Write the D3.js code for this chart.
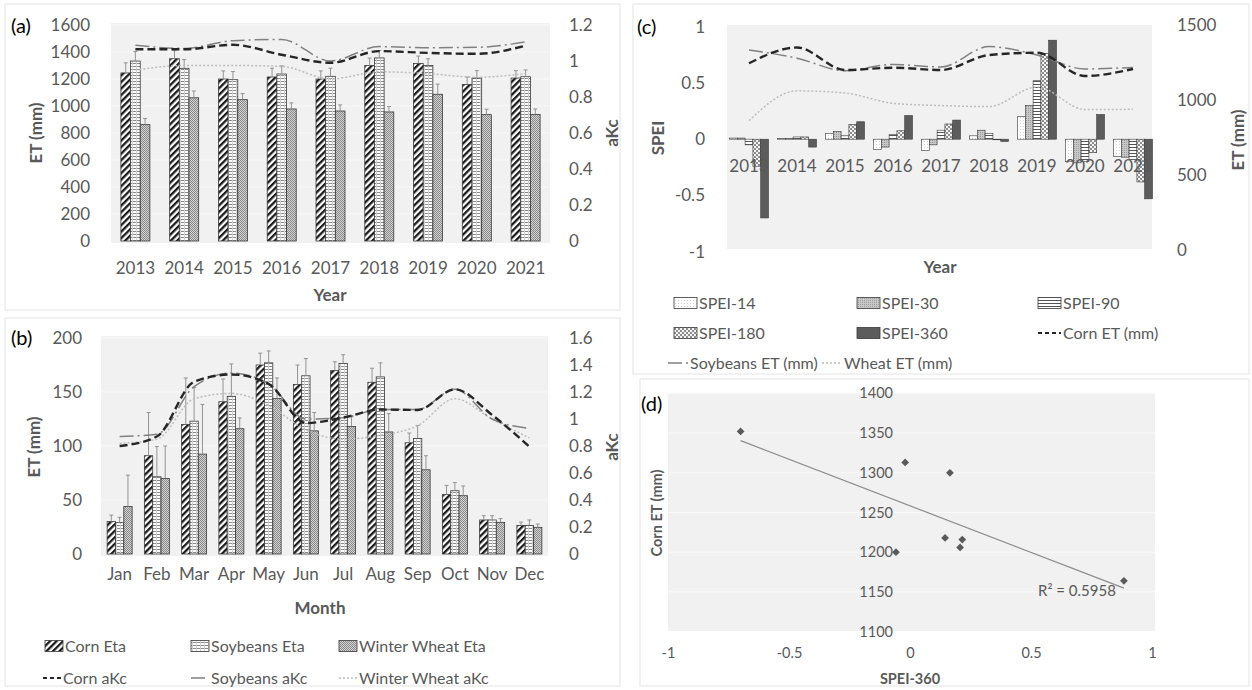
<!DOCTYPE html>
<html>
<head>
<meta charset="utf-8">
<script src="https://cdn.jsdelivr.net/npm/d3@7"></script>
<style>
  body { margin: 0; background: #fff; }
  svg { font-family: Lato, "Open Sans", sans-serif; }
</style>
</head>
<body>
<svg id="fig" width="1252" height="690"></svg>
<script>
// ---- data: panel (a), yearly ----
const years = ['2013', '2014', '2015', '2016', '2017', '2018', '2019', '2020', '2021'];
const cornEta = [1245, 1350, 1200, 1215, 1200, 1300, 1315, 1160, 1207];
const soyEta = [1333, 1279, 1195, 1237, 1220, 1356, 1300, 1207, 1217];
const wheatEta = [862, 1061, 1047, 978, 963, 956, 1087, 936, 938];
const cornEtaErr = [75, 60, 60, 65, 60, 55, 55, 55, 55];
const soyEtaErr = [70, 65, 60, 60, 60, 55, 50, 55, 50];
const wheatEtaErr = [45, 50, 45, 45, 45, 40, 75, 40, 40];
const cornAkcYear = [1.065, 1.065, 1.09, 1.035, 0.99, 1.055, 1.045, 1.04, 1.085];
const soyAkcYear = [1.087, 1.07, 1.113, 1.12, 1.0, 1.08, 1.074, 1.076, 1.107];
const wheatAkcYear = [0.95, 0.975, 0.975, 0.97, 0.9, 0.94, 0.93, 0.91, 0.93];
const aLeftTicks = [0, 200, 400, 600, 800, 1000, 1200, 1400, 1600];
const aRightTicks = ['0', '0.2', '0.4', '0.6', '0.8', '1', '1.2'];

// ---- data: panel (b), monthly ----
const months = ['Jan', 'Feb', 'Mar', 'Apr', 'May', 'Jun', 'Jul', 'Aug', 'Sep', 'Oct', 'Nov', 'Dec'];
const cornEtaMon = [30, 91, 120, 141, 175, 157, 170, 159, 103, 55, 31.5, 26.5];
const soyEtaMon = [29, 71.5, 123, 146, 177, 165, 176.5, 164, 107, 58.6, 31.5, 26.5];
const wheatEtaMon = [44, 70, 92.5, 116, 144, 114, 118, 113, 78, 54, 29.3, 24.7];
const cornErrMon = [6, 40, 43, 21, 11, 18, 8, 13, 9, 8.5, 4, 3];
const soyErrMon = [5, 28, 31, 30, 11, 16, 8, 13, 12, 7.5, 4, 5];
const wheatErrMon = [29, 30, 46, 10, 19, 17, 9, 17, 13, 9, 3.5, 3];
const cornAkcMon = [0.80, 0.87, 1.276, 1.33, 1.26, 0.97, 1.01, 1.07, 1.067, 1.22, 1.03, 0.795];
const soyAkcMon = [0.87, 0.887, 1.24, 1.34, 1.26, 1.0, 1.01, 1.07, 1.07, 1.22, 1.0, 0.93];
const wheatAkcMon = [0.82, 0.85, 1.15, 1.19, 1.1, 0.92, 0.85, 0.88, 0.95, 1.15, 1.0, 0.86];
const bLeftTicks = [0, 50, 100, 150, 200];
const bRightTicks = ['0', '0.2', '0.4', '0.6', '0.8', '1', '1.2', '1.4', '1.6'];

// ---- data: panel (c), SPEI ----
const spei14 = [0.01, 0.005, 0.05, -0.09, -0.10, 0.03, 0.20, -0.20, -0.155];
const spei30 = [0.01, 0.005, 0.07, -0.07, -0.05, 0.08, 0.30, -0.21, -0.16];
const spei90 = [-0.05, 0.02, 0.03, 0.04, 0.08, 0.05, 0.52, -0.20, -0.18];
const spei180 = [-0.24, 0.02, 0.13, 0.075, 0.135, -0.005, 0.76, -0.12, -0.38];
const spei360 = [-0.70, -0.07, 0.155, 0.21, 0.17, -0.02, 0.88, 0.22, -0.53];
const cLeftTicks = ['-1', '-0.5', '0', '0.5', '1'];
const cRightTicks = [0, 500, 1000, 1500];

// ---- data: panel (d), scatter ----
const dSpei = [-0.70, -0.02, 0.165, 0.145, 0.216, 0.207, -0.058, 0.884];
const dCornET = [1352, 1313, 1300, 1218, 1216, 1206, 1200, 1164];
const dXTicks = ['-1', '-0.5', '0', '0.5', '1'];
const dYTicks = [1100, 1150, 1200, 1250, 1300, 1350, 1400];

const grey = '#595959';
const plotBg = '#f1f1f1';
const plain = d3.format('d');
const svg = d3.select('#fig');
const defs = svg.append('defs');

function makePattern(id, w, h, bg, rot) {
  const p = defs.append('pattern').attr('id', id)
    .attr('patternUnits', 'userSpaceOnUse').attr('width', w).attr('height', h);
  if (rot) p.attr('patternTransform', `rotate(${rot})`);
  p.append('rect').attr('width', w).attr('height', h).attr('fill', bg);
  return p;
}
function dot(p, x, y, w, h, c) {
  p.append('rect').attr('x', x).attr('y', y).attr('width', w).attr('height', h).attr('fill', c);
}
dot(makePattern('pCorn', 4.6, 4.6, '#fff', 45), 0, 0, 2.3, 4.6, '#1a1a1a');
const pSoy = makePattern('pSoy', 4, 3, '#fff');
dot(pSoy, 0, 0, 4, 1, '#8a8a8a');
dot(pSoy, 0, 0, 1, 3, '#d0d0d0');
const pWheat = makePattern('pWheat', 2, 2, '#d2d2d2');
dot(pWheat, 0, 0, 1, 1, '#8a8a8a');
dot(pWheat, 1, 1, 1, 1, '#8a8a8a');
dot(makePattern('p14', 3, 3, '#fff'), 0, 0, 1, 1, '#d0d0d0');
const p30 = makePattern('p30', 2, 2, '#c8c8c8');
dot(p30, 0, 0, 1, 1, '#9a9a9a');
dot(makePattern('p90', 3, 3, '#fff'), 0, 0, 3, 1, '#555');
const p180 = makePattern('p180', 4, 4, '#8e8e8e');
dot(p180, 0, 0, 2, 2, '#f2f2f2');
dot(p180, 2, 2, 2, 2, '#f2f2f2');
makePattern('p360', 4, 4, '#5c5c5c');

const lineStyles = {
  corn: { stroke: '#262626', width: 2.4, dash: '8,4' },
  soy: { stroke: '#808080', width: 1.5, dash: '14,4,2,4' },
  wheat: { stroke: '#bdbdbd', width: 1.5, dash: '2,2' }
};

function styleAxis(a, size) {
  a.select('.domain').remove();
  a.attr('font-family', null).attr('font-size', size);
  a.selectAll('text').attr('fill', grey);
}
function label(txt, x, y, opts = {}) {
  const t = svg.append('text').attr('x', x).attr('y', y).text(txt)
    .attr('font-size', opts.size || 17).attr('fill', opts.fill || grey)
    .attr('text-anchor', opts.anchor || 'middle');
  if (opts.bold) t.attr('font-weight', 'bold');
  if (opts.rot) t.attr('transform', `rotate(${opts.rot},${x},${y})`);
  return t;
}
function drawLine(g, vals, x, y, st) {
  g.append('path').datum(vals)
    .attr('d', d3.line().x((d, i) => x(i)).y(d => y(d)).curve(d3.curveMonotoneX))
    .attr('fill', 'none').attr('stroke', st.stroke).attr('stroke-width', st.width)
    .attr('stroke-dasharray', st.dash);
}

// panel frames
[[5, 4, 620, 310], [5, 318, 620, 686], [633, 4, 1249, 374], [640, 379, 1249, 686]].forEach(b => {
  svg.append('rect').attr('x', b[0]).attr('y', b[1]).attr('width', b[2] - b[0]).attr('height', b[3] - b[1])
    .attr('fill', 'none').attr('stroke', '#e4e4e4');
});

// ---- grouped bars with two axes: panels (a) and (b) ----
function barPanel(cfg) {
  const g = svg.append('g');
  const x = d3.scaleBand().domain(cfg.cats).range([cfg.x0, cfg.x1]);
  const inner = d3.scaleBand().domain(d3.range(cfg.bars.length)).range([0, cfg.groupW]);
  const yL = d3.scaleLinear().domain(cfg.leftDomain).range([cfg.yBot, cfg.yTop]);
  const yR = d3.scaleLinear().domain(cfg.rightDomain).range([cfg.yBot, cfg.yTop]);
  const gx = i => x(cfg.cats[i]) + (x.bandwidth() - cfg.groupW) / 2;

  g.append('rect').attr('x', cfg.x0).attr('y', cfg.yTop - 2)
    .attr('width', cfg.x1 - cfg.x0).attr('height', cfg.yBot - cfg.yTop + 4).attr('fill', plotBg);
  g.append('g').selectAll('line').data(cfg.leftTicks.slice(1)).join('line')
    .attr('x1', cfg.x0).attr('x2', cfg.x1).attr('y1', d => yL(d)).attr('y2', d => yL(d))
    .attr('stroke', '#f8f8f8');

  cfg.bars.forEach((s, si) => {
    const bg = g.append('g');
    bg.selectAll('rect').data(s.vals).join('rect')
      .attr('x', (d, i) => gx(i) + inner(si))
      .attr('y', d => yL(d))
      .attr('width', inner.bandwidth())
      .attr('height', d => yL(0) - yL(d))
      .attr('fill', `url(#${s.pat})`).attr('stroke', '#3a3a3a').attr('stroke-width', 0.8);
    const cx = i => gx(i) + inner(si) + inner.bandwidth() / 2;
    bg.selectAll('path.err').data(s.vals).join('path').attr('class', 'err')
      .attr('d', (d, i) => `M${cx(i)},${yL(d)}V${yL(d + s.err[i])}M${cx(i) - 2},${yL(d + s.err[i])}h4`)
      .attr('stroke', '#8a8a8a').attr('stroke-width', 0.9).attr('fill', 'none');
  });

  const lx = i => x(cfg.cats[i]) + x.bandwidth() / 2;
  cfg.lines.slice().reverse().forEach(l => drawLine(g, l.vals, lx, yR, l.style));

  g.append('g').attr('transform', `translate(${cfg.leftLabelX},0)`)
    .call(d3.axisLeft(yL).tickValues(cfg.leftTicks).tickSize(0).tickPadding(0).tickFormat(plain))
    .call(a => styleAxis(a, 17));
  g.append('g').attr('transform', `translate(${cfg.rightLabelX},0)`)
    .call(d3.axisRight(yR).tickValues(cfg.rightTicks.map(Number)).tickSize(0).tickPadding(0)
      .tickFormat((d, i) => cfg.rightTicks[i]))
    .call(a => styleAxis(a, 17));
  g.append('g').attr('transform', `translate(0,${cfg.yBot})`)
    .call(d3.axisBottom(x).tickSize(0).tickPadding(cfg.xPad))
    .call(a => styleAxis(a, 17));
  return { x, yL, yR };
}

barPanel({
  cats: years, x0: 111, x1: 550, groupW: 29, yTop: 25, yBot: 241,
  leftDomain: [0, 1600], rightDomain: [0, 1.2], leftTicks: aLeftTicks, rightTicks: aRightTicks,
  leftLabelX: 90, rightLabelX: 569, xPad: 21,
  bars: [
    { vals: cornEta, err: cornEtaErr, pat: 'pCorn' },
    { vals: soyEta, err: soyEtaErr, pat: 'pSoy' },
    { vals: wheatEta, err: wheatEtaErr, pat: 'pWheat' }
  ],
  lines: [
    { vals: cornAkcYear, style: lineStyles.corn },
    { vals: soyAkcYear, style: lineStyles.soy },
    { vals: wheatAkcYear, style: lineStyles.wheat }
  ]
});
label('(a)', 11, 33, { fill: '#000', anchor: 'start', size: 20 });
label('ET (mm)', 42, 133, { bold: true, rot: -90 });
label('aKc', 618, 133, { bold: true, rot: -90 });
label('Year', 330, 301, { bold: true });

barPanel({
  cats: months, x0: 101, x1: 548, groupW: 25, yTop: 338, yBot: 554,
  leftDomain: [0, 200], rightDomain: [0, 1.6], leftTicks: bLeftTicks, rightTicks: bRightTicks,
  leftLabelX: 82, rightLabelX: 569, xPad: 14,
  bars: [
    { vals: cornEtaMon, err: cornErrMon, pat: 'pCorn' },
    { vals: soyEtaMon, err: soyErrMon, pat: 'pSoy' },
    { vals: wheatEtaMon, err: wheatErrMon, pat: 'pWheat' }
  ],
  lines: [
    { vals: cornAkcMon, style: lineStyles.corn },
    { vals: soyAkcMon, style: lineStyles.soy },
    { vals: wheatAkcMon, style: lineStyles.wheat }
  ]
});
label('(b)', 11, 345, { fill: '#000', anchor: 'start', size: 20 });
label('ET (mm)', 40, 447, { bold: true, rot: -90 });
label('aKc', 618, 447, { bold: true, rot: -90 });
label('Month', 320, 614, { bold: true });

// legend for (a)/(b)
const legAB = [
  { name: 'Corn Eta', pat: 'pCorn', x: 45, y: 646 },
  { name: 'Soybeans Eta', pat: 'pSoy', x: 191, y: 646 },
  { name: 'Winter Wheat Eta', pat: 'pWheat', x: 339, y: 646 },
  { name: 'Corn aKc', line: lineStyles.corn, x: 43, y: 678 },
  { name: 'Soybeans aKc', line: lineStyles.soy, x: 191, y: 678 },
  { name: 'Winter Wheat aKc', line: lineStyles.wheat, x: 339, y: 678 }
];
function legendItems(items, sw, size) {
  items.forEach(it => {
    if (it.pat) {
      svg.append('rect').attr('x', it.x).attr('y', it.y - 5.5).attr('width', sw).attr('height', 11)
        .attr('fill', `url(#${it.pat})`).attr('stroke', '#3a3a3a').attr('stroke-width', 0.8);
    } else {
      svg.append('line').attr('x1', it.x).attr('x2', it.x + sw).attr('y1', it.y).attr('y2', it.y)
        .attr('stroke', it.line.stroke).attr('stroke-width', Math.min(it.line.width, 1.8))
        .attr('stroke-dasharray', it.line.dash === '8,4' ? '4,3' : it.line.dash);
    }
    label(it.name, it.x + sw + 2, it.y + 6, { anchor: 'start', size: size });
  });
}
legendItems(legAB, 18, 16);

// ---- panel (c): SPEI bars + ET lines ----
{
  const g = svg.append('g');
  const x = d3.scaleBand().domain(years).range([725, 1157]);
  const speiSeries = [
    { vals: spei14, pat: 'p14' }, { vals: spei30, pat: 'p30' }, { vals: spei90, pat: 'p90' },
    { vals: spei180, pat: 'p180' }, { vals: spei360, pat: 'p360' }
  ];
  const groupW = 39;
  const inner = d3.scaleBand().domain(d3.range(speiSeries.length)).range([0, groupW]);
  const yL = d3.scaleLinear().domain([-1, 1]).range([251.7, 26.7]);
  const yR = d3.scaleLinear().domain([0, 1500]).range([250, 25]);
  g.append('rect').attr('x', 727).attr('y', 25).attr('width', 425).attr('height', 224).attr('fill', plotBg);
  speiSeries.forEach((s, si) => {
    g.append('g').selectAll('rect').data(s.vals).join('rect')
      .attr('x', (d, i) => x(years[i]) + (x.bandwidth() - groupW) / 2 + inner(si))
      .attr('y', d => Math.min(yL(d), yL(0)))
      .attr('width', inner.bandwidth())
      .attr('height', d => Math.abs(yL(d) - yL(0)))
      .attr('fill', `url(#${s.pat})`).attr('stroke', '#3a3a3a').attr('stroke-width', 0.6);
  });
  const lx = i => x(years[i]) + x.bandwidth() / 2;
  drawLine(g, wheatEta, lx, yR, lineStyles.wheat);
  drawLine(g, soyEta, lx, yR, lineStyles.soy);
  drawLine(g, cornEta, lx, yR, lineStyles.corn);

  g.append('g').attr('transform', 'translate(705,0)')
    .call(d3.axisLeft(yL).tickValues(cLeftTicks.map(Number)).tickSize(0).tickPadding(0)
      .tickFormat((d, i) => cLeftTicks[i]))
    .call(a => styleAxis(a, 17));
  g.append('g').attr('transform', 'translate(1177,0)')
    .call(d3.axisRight(yR).tickValues(cRightTicks).tickSize(0).tickPadding(0).tickFormat(plain))
    .call(a => styleAxis(a, 17));
  g.append('g').attr('transform', `translate(0,${yL(0)})`)
    .call(d3.axisBottom(x).tickSize(0).tickPadding(21))
    .call(a => styleAxis(a, 17));
  label('(c)', 637, 34, { fill: '#000', anchor: 'start', size: 20 });
  label('SPEI', 664, 138, { bold: true, rot: -90 });
  label('ET (mm)', 1244, 140, { bold: true, rot: -90 });
  label('Year', 940, 273, { bold: true });

  legendItems([
    { name: 'SPEI-14', pat: 'p14', x: 674, y: 303 },
    { name: 'SPEI-30', pat: 'p30', x: 857, y: 303 },
    { name: 'SPEI-90', pat: 'p90', x: 1038, y: 303 },
    { name: 'SPEI-180', pat: 'p180', x: 674, y: 333 },
    { name: 'SPEI-360', pat: 'p360', x: 857, y: 333 },
    { name: 'Corn ET (mm)', line: lineStyles.corn, x: 1038, y: 333 }
  ], 23, 16);
  legendItems([
    { name: 'Soybeans ET (mm)', line: lineStyles.soy, x: 668, y: 363 },
    { name: 'Wheat ET (mm)', line: lineStyles.wheat, x: 822, y: 363 }
  ], 20, 16);
}

// ---- panel (d): scatter + linear trend ----
{
  const g = svg.append('g');
  const x = d3.scaleLinear().domain([-1, 1]).range([668, 1152]);
  const y = d3.scaleLinear().domain([1100, 1400]).range([631.7, 393.3]);
  g.append('rect').attr('x', 668).attr('y', 393).attr('width', 487).attr('height', 238).attr('fill', plotBg);
  g.append('g').selectAll('line').data(dYTicks.slice(1)).join('line')
    .attr('x1', 668).attr('x2', 1155).attr('y1', d => y(d)).attr('y2', d => y(d))
    .attr('stroke', '#f9f9f9');

  const mx = d3.mean(dSpei), my = d3.mean(dCornET);
  const slope = d3.sum(dSpei, (v, i) => (v - mx) * (dCornET[i] - my)) / d3.sum(dSpei, v => (v - mx) ** 2);
  const icpt = my - slope * mx;
  const ext = d3.extent(dSpei);
  g.append('line')
    .attr('x1', x(ext[0])).attr('y1', y(icpt + slope * ext[0]))
    .attr('x2', x(ext[1])).attr('y2', y(icpt + slope * ext[1]))
    .attr('stroke', '#8c8c8c').attr('stroke-width', 1.2);

  g.append('g').attr('transform', 'translate(893,0)')
    .call(d3.axisLeft(y).tickValues(dYTicks).tickSize(0).tickPadding(0).tickFormat(plain))
    .call(a => styleAxis(a, 14.5));
  g.append('g').attr('transform', 'translate(0,648)')
    .call(d3.axisBottom(x).tickValues(dXTicks.map(Number)).tickSize(0).tickPadding(0)
      .tickFormat((d, i) => dXTicks[i]))
    .call(a => styleAxis(a, 14.5));

  g.append('g').selectAll('path').data(dSpei).join('path')
    .attr('transform', (d, i) => `translate(${x(d)},${y(dCornET[i])}) rotate(45)`)
    .attr('d', d3.symbol(d3.symbolSquare, 30))
    .attr('fill', '#5a5a5a');

  label('R² = 0.5958', 1077, 596, { size: 15 });
  label('(d)', 641, 411, { fill: '#000', anchor: 'start', size: 20 });
  label('Corn ET (mm)', 662, 513, { bold: true, rot: -90, size: 14.5 });
  label('SPEI-360', 910, 684, { bold: true, size: 14.5 });
}
</script>
</body>
</html>
